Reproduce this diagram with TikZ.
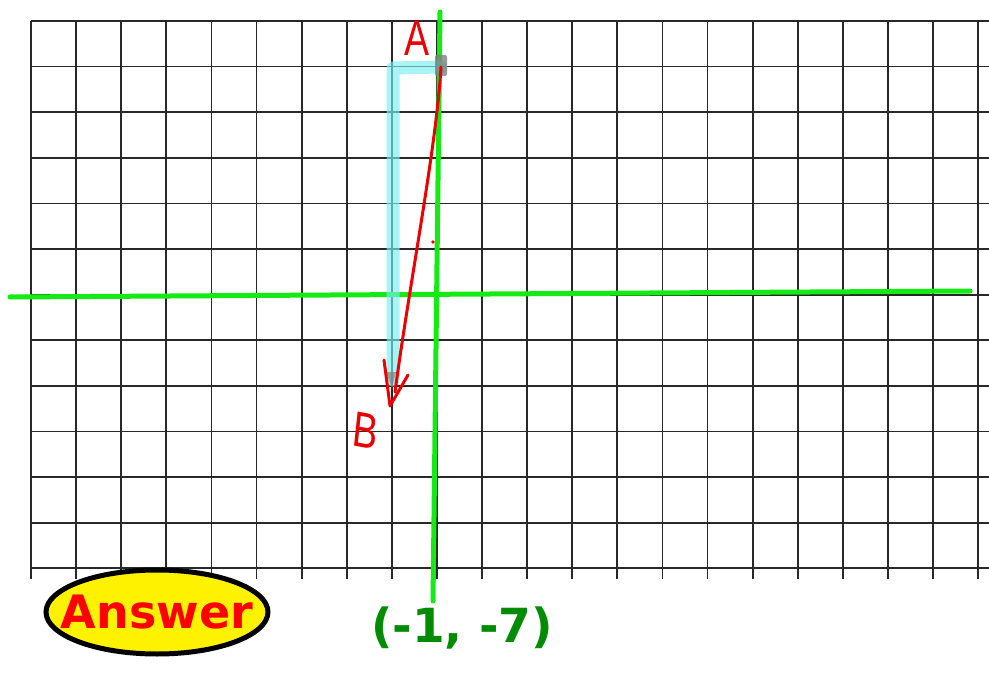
\documentclass[tikz,border=0pt]{standalone}
\usepackage{fontspec}
\setmainfont{DejaVu Sans}
\newfontfamily\handfont{Liberation Sans}
\usetikzlibrary{shapes.geometric}
\definecolor{gridgray}{RGB}{40,40,40}
\definecolor{axisgreen}{RGB}{20,235,20}
\definecolor{txtgreen}{RGB}{0,140,0}
\definecolor{hlcyan}{RGB}{120,238,242}
\definecolor{penred}{RGB}{235,0,0}
\tikzset{
  gridline/.style={draw=gridgray,line width=1.8pt},
  axis/.style={draw=axisgreen,line width=5pt,line cap=round},
  hilite/.style={draw=hlcyan,line width=13pt,opacity=0.65,line cap=round,line join=round},
  pen/.style={draw=penred,line width=3pt,line cap=round,line join=round},
  handlbl/.style={text=penred,font=\handfont\fontsize{50}{50}\selectfont,inner sep=0pt,xscale=0.75},
  answertxt/.style={inner sep=0pt,text=red,font=\bfseries\fontsize{46}{46}\selectfont},
  ansoval/.style={draw=black,line width=5pt,fill=yellow},
  coordlbl/.style={text=txtgreen,font=\bfseries\fontsize{47}{47}\selectfont,inner sep=0pt}
}
\begin{document}
\begin{tikzpicture}[x=1pt,y=-1pt]
\useasboundingbox[fill=white] (0,0) rectangle (989,677);
% grid
\foreach \i in {0,...,21}{
  \draw[gridline] ({31+\i*45.1},21) -- ({31+\i*45.1},579);
}
\foreach \j in {0,...,12}{
  \draw[gridline] (31,{21+\j*45.6}) -- (989,{21+\j*45.6});
}
% axes
\coordinate (xl) at (10,297);
\coordinate (xr) at (970,291);
\coordinate (yt) at (440,12);
\coordinate (yb) at (433,601);
\draw[axis] (xl) -- (xr);
\draw[axis] (yt) -- (yb);
% highlighted path
\coordinate (A) at (441,67);
\coordinate (corner) at (393,68);
\coordinate (Bend) at (393,380);
\draw[hilite] (A) -- (corner) -- (Bend);
% gray marks
\fill[gray,opacity=0.8,rounded corners=2pt] (435,55) rectangle (447,76);
\fill[gray,opacity=0.7] (386,372) -- (396,372) -- (392,388) -- cycle;
% red line and arrowhead
\coordinate (Btip) at (390,406);
\draw[pen] (A) .. controls (436,150) and (410,280) .. (395,392);
\draw[pen] (384,360) -- (Btip) -- (408,375);
\fill[penred] (433,242) circle (1.8);
% labels
\node[handlbl,anchor=south] (lblA) at (417,56) {A};
\node[handlbl,anchor=north,rotate=-8] (lblB) at (367,414) {B};
\coordinate (ansc) at (157,612);
\draw[ansoval] (ansc) ellipse (111 and 42);
\node[answertxt] (ans) at (ansc) {Answer};
\node[coordlbl] (pt) at (462,628) {(-1, -7)};
\end{tikzpicture}
\end{document}
